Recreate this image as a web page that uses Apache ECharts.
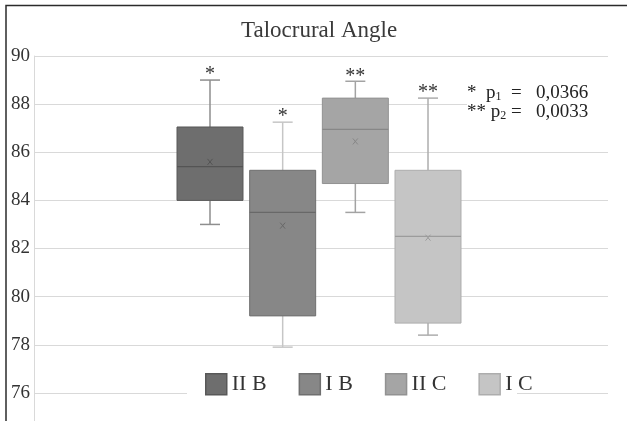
<!DOCTYPE html>
<html>
<head>
<meta charset="utf-8">
<title>Talocrural Angle</title>
<script src="https://cdn.jsdelivr.net/npm/echarts@6/dist/echarts.min.js"></script>
<style>
    html, body { margin: 0; padding: 0; background: #fff; }
    #chart { width: 627px; height: 421px; }
</style>
</head>
<body>
<div id="chart"></div>
<script>
// data
var categories = ['II B', 'I B', 'II C', 'I C'];
var minValues = [83.0, 77.9, 83.5, 78.4];
var q1Values = [84.0, 79.2, 84.7, 78.9];
var medianValues = [85.4, 83.5, 86.95, 82.5];
var q3Values = [87.05, 85.25, 88.25, 85.25];
var maxValues = [89.0, 87.25, 88.95, 88.25];
var meanValues = [85.6, 82.95, 86.45, 82.45];
var stars = ['*', '*', '**', '**'];
var yMin = 74, yMax = 90, yStep = 2;

// greys per group
var fills = ['#6e6e6e', '#878787', '#a5a5a5', '#c5c5c5'];
var borders = ['#585858', '#6f6f6f', '#929292', '#adadad'];
var medianColors = ['#545454', '#686868', '#878787', '#9c9c9c'];
var whiskerColors = ['#8e8e8e', '#c6c6c6', '#a3a3a3', '#adadad'];

var font = 'Liberation Serif';

var myChart = echarts.init(document.getElementById('chart'));

function renderBox(params, api) {
    var i = params.seriesIndex;
    var x = api.value(0);
    var half = api.size([1, 0])[0] * 0.454;
    var cap = 10;
    var pMin = api.coord([x, api.value(1)]);
    var pQ1 = api.coord([x, api.value(2)]);
    var pMed = api.coord([x, api.value(3)]);
    var pQ3 = api.coord([x, api.value(4)]);
    var pMax = api.coord([x, api.value(5)]);
    var pMean = api.coord([x, api.value(6)]);
    var cx = pMed[0];
    var wStyle = { stroke: whiskerColors[i], lineWidth: 1.5 };
    var mStyle = { stroke: medianColors[i], lineWidth: 1 };
    return {
        type: 'group',
        children: [
            { type: 'line', shape: { x1: cx, y1: pMax[1], x2: cx, y2: pQ3[1] }, style: wStyle },
            { type: 'line', shape: { x1: cx, y1: pQ1[1], x2: cx, y2: pMin[1] }, style: wStyle },
            { type: 'line', shape: { x1: cx - cap, y1: pMax[1], x2: cx + cap, y2: pMax[1] }, style: wStyle },
            { type: 'line', shape: { x1: cx - cap, y1: pMin[1], x2: cx + cap, y2: pMin[1] }, style: wStyle },
            {
                type: 'rect',
                shape: { x: cx - half, y: pQ3[1], width: half * 2, height: pQ1[1] - pQ3[1] },
                style: { fill: fills[i], stroke: borders[i], lineWidth: 1 }
            },
            { type: 'line', shape: { x1: cx - half, y1: pMed[1], x2: cx + half, y2: pMed[1] }, style: { stroke: medianColors[i], lineWidth: 1.2 } },
            // mean marker "x"
            { type: 'line', shape: { x1: cx - 2.5, y1: pMean[1] - 3, x2: cx + 2.5, y2: pMean[1] + 3 }, style: mStyle },
            { type: 'line', shape: { x1: cx + 2.5, y1: pMean[1] - 3, x2: cx - 2.5, y2: pMean[1] + 3 }, style: mStyle },
            {
                type: 'text',
                style: {
                    x: cx, y: pMax[1] - 5, text: stars[i],
                    fontFamily: font, fontSize: 20, fill: '#333',
                    align: 'center', verticalAlign: 'middle'
                }
            }
        ]
    };
}

var series = categories.map(function (name, i) {
    return {
        name: name,
        type: 'custom',
        xAxisIndex: 1,
        yAxisIndex: 1,
        itemStyle: { color: fills[i], borderColor: borders[i] },
        encode: { x: 0, y: [1, 2, 3, 4, 5, 6] },
        data: [[i, minValues[i], q1Values[i], medianValues[i], q3Values[i], maxValues[i], meanValues[i]]],
        renderItem: renderBox
    };
});

var option = {
    animation: false,
    title: {
        text: 'Talocrural Angle',
        left: 241,
        top: 19,
        padding: 0,
        textStyle: { fontFamily: font, fontSize: 23, fontWeight: 'normal', color: '#3a3a3a' }
    },
    legend: {
        data: categories.map(function (name, i) {
            return { name: name, itemStyle: { color: fills[i], borderColor: borders[i], borderWidth: 1.5 } };
        }),
        icon: 'rect',
        left: 205,
        top: 373,
        padding: 0,
        itemWidth: 21,
        itemHeight: 21,
        itemGap: 32,
        z: 10,
        textStyle: { fontFamily: font, fontSize: 22, color: '#333' }
    },
    grid: [
        { left: 34, top: 56, width: 574, height: 385, outerBoundsMode: 'none', containLabel: false },
        { left: 173.67, top: 56, width: 290.67, height: 385, outerBoundsMode: 'none', containLabel: false }
    ],
    xAxis: [
        { type: 'category', gridIndex: 0, data: [''], show: false },
        { type: 'category', gridIndex: 1, data: categories, show: false }
    ],
    yAxis: [
        {
            type: 'value', gridIndex: 0, min: yMin, max: yMax, interval: yStep,
            axisLine: { show: true, lineStyle: { color: '#d9d9d9' } },
            axisTick: { show: false },
            splitLine: { lineStyle: { color: '#d9d9d9' } },
            axisLabel: { margin: 4, fontFamily: font, fontSize: 19, color: '#333' }
        },
        { type: 'value', gridIndex: 1, min: yMin, max: yMax, show: false }
    ],
    graphic: [
        {
            type: 'polyline',
            shape: { points: [[6, 421], [6, 5.5], [627, 5.5]] },
            style: { stroke: '#2b2b2b', lineWidth: 1.5, fill: null }
        },
        {
            type: 'rect', z: 5,
            shape: { x: 187, y: 363, width: 330, height: 41 },
            style: { fill: '#fff' }
        },
        {
            type: 'text', z: 5, left: 467, top: 82,
            style: {
                text: '{a|*  p}{s|1}{a|  =   0,0366}\n{a|** p}{s|2}{a| =   0,0033}',
                backgroundColor: '#fff',
                padding: [2, 24, 4, 0],
                rich: {
                    a: { fontFamily: font, fontSize: 19, lineHeight: 19, fill: '#222' },
                    s: { fontFamily: font, fontSize: 12, lineHeight: 14, verticalAlign: 'bottom', fill: '#222' }
                }
            }
        }
    ],
    series: series
};

myChart.setOption(option);
</script>
</body>
</html>
